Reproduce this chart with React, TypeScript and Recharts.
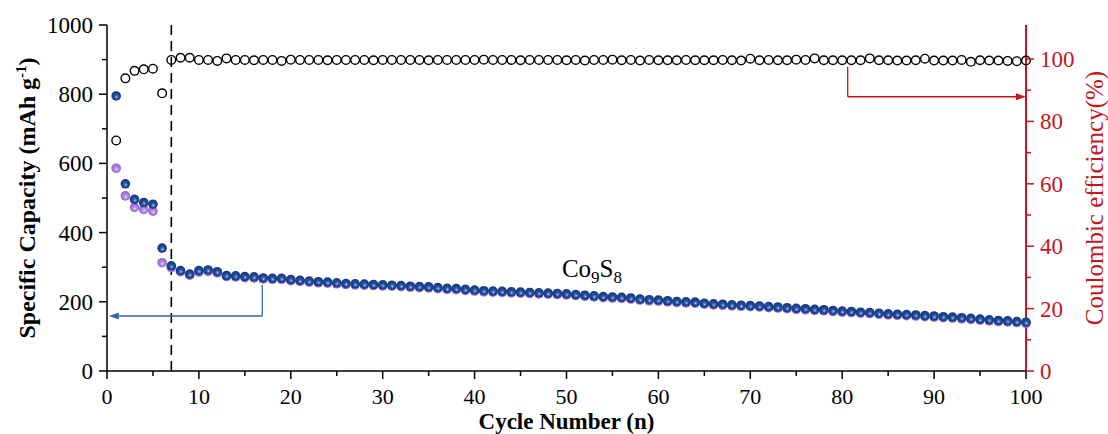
import { ComposedChart, Line, XAxis, YAxis, ReferenceLine, ReferenceDot, Label } from 'recharts';

const cycles = [
  1, 2, 3, 4, 5, 6, 7, 8, 9, 10, 11, 12, 13, 14, 15, 16, 17, 18, 19, 20,
  21, 22, 23, 24, 25, 26, 27, 28, 29, 30, 31, 32, 33, 34, 35, 36, 37, 38, 39, 40,
  41, 42, 43, 44, 45, 46, 47, 48, 49, 50, 51, 52, 53, 54, 55, 56, 57, 58, 59, 60,
  61, 62, 63, 64, 65, 66, 67, 68, 69, 70, 71, 72, 73, 74, 75, 76, 77, 78, 79, 80,
  81, 82, 83, 84, 85, 86, 87, 88, 89, 90, 91, 92, 93, 94, 95, 96, 97, 98, 99, 100,
];

// discharge capacity (dark blue balls), mAh/g
const dischargeCapacity = [
  795, 541, 496, 487, 482, 355, 304, 290, 280, 290, 292, 287, 276, 275, 273, 272, 269, 268, 268, 264,
  262, 260, 258, 257, 255, 253, 252, 251, 250, 249, 248, 247, 245, 244, 243, 241, 239, 238, 236, 234,
  232, 231, 230, 229, 228, 227, 226, 225, 224, 223, 221, 219, 217, 215, 214, 213, 211, 208, 206, 205,
  203, 201, 200, 199, 196, 194, 193, 191, 190, 189, 188, 186, 185, 183, 181, 180, 178, 177, 175, 173,
  172, 170, 169, 167, 165, 164, 163, 162, 160, 159, 157, 156, 154, 152, 150, 148, 146, 145, 143, 141,
];

// charge capacity (purple balls), mostly hidden behind the blue ones after cycle 6
const chargeCapacity = [
  586, 506, 473, 467, 462, 313, 299, 287, 277, 286, 288, 284, 273, 272, 270, 269, 266, 265, 265, 261,
  259, 257, 255, 254, 252, 250, 249, 248, 247, 246, 245, 244, 242, 241, 240, 238, 236, 235, 233, 231,
  229, 228, 227, 226, 225, 224, 223, 222, 221, 220, 218, 216, 214, 212, 211, 210, 208, 205, 203, 202,
  200, 198, 197, 196, 193, 191, 190, 188, 187, 186, 185, 183, 182, 180, 178, 177, 175, 174, 172, 170,
  169, 167, 166, 164, 162, 161, 160, 159, 157, 156, 154, 153, 151, 149, 147, 145, 143, 142, 140, 138,
];

// coulombic efficiency (open circles), %
const coulombicEfficiency = [
  73.9, 93.8, 96.2, 96.7, 96.9, 89.0, 99.7, 100.4, 100.4, 99.7, 99.7, 99.4, 100.2, 99.7, 99.7, 99.6, 99.7, 99.7, 99.4, 99.8,
  99.7, 99.7, 99.7, 99.6, 99.7, 99.7, 99.7, 99.7, 99.6, 99.7, 99.7, 99.7, 99.7, 99.7, 99.6, 99.7, 99.7, 99.7, 99.7, 99.7,
  99.8, 99.7, 99.7, 99.7, 99.6, 99.7, 99.7, 99.7, 99.7, 99.6, 99.7, 99.5, 99.7, 99.7, 99.8, 99.6, 99.7, 99.5, 99.7, 99.6,
  99.6, 99.6, 99.7, 99.6, 99.6, 99.6, 99.7, 99.6, 99.5, 100.1, 99.6, 99.7, 99.6, 99.6, 99.8, 99.7, 100.2, 99.6, 99.6, 99.6,
  99.6, 99.6, 100.2, 99.6, 99.6, 99.5, 99.5, 99.6, 100.1, 99.5, 99.5, 99.5, 99.7, 99.1, 99.6, 99.5, 99.5, 99.4, 99.3, 99.5,
];

const xTicks = [0, 5, 10, 15, 20, 25, 30, 35, 40, 45, 50, 55, 60, 65, 70, 75, 80, 85, 90, 95, 100];
const capacityTicks = [0, 100, 200, 300, 400, 500, 600, 700, 800, 900, 1000];
const efficiencyTicks = [0, 10, 20, 30, 40, 50, 60, 70, 80, 90, 100];

const data = cycles.map((cycle, i) => ({
  cycle,
  discharge: dischargeCapacity[i],
  charge: chargeCapacity[i],
  ce: coulombicEfficiency[i],
}));

const SERIF = '"Liberation Serif", "Times New Roman", serif';
const RED = '#c4161c';
const ARROW_BLUE = '#3465ad';
const TICK_SIZE = 8;
const TICK_MARGIN = 4;

function BottomTick({ x, y, payload }: any) {
  const axisY = y - TICK_SIZE - TICK_MARGIN;
  const major = payload.value % 10 === 0;
  return (
    <g>
      <line x1={x} x2={x} y1={axisY} y2={axisY + (major ? 8 : 5)} stroke="#000" strokeWidth={1.5} />
      {major && (
        <text x={x} y={axisY + 33} textAnchor="middle" fontFamily={SERIF} fontSize={22} fill="#000">
          {payload.value}
        </text>
      )}
    </g>
  );
}

function LeftTick({ x, y, payload }: any) {
  const axisX = x + TICK_SIZE + TICK_MARGIN;
  const major = payload.value % 200 === 0;
  return (
    <g>
      <line x1={axisX - (major ? 8 : 5)} x2={axisX} y1={y} y2={y} stroke="#000" strokeWidth={1.5} />
      {major && (
        <text x={axisX - 14} y={y + 8} textAnchor="end" fontFamily={SERIF} fontSize={23} fill="#000">
          {payload.value}
        </text>
      )}
    </g>
  );
}

function RightTick({ x, y, payload }: any) {
  const axisX = x - TICK_SIZE - TICK_MARGIN;
  const major = payload.value % 20 === 0;
  return (
    <g>
      <line x1={axisX} x2={axisX + (major ? 8 : 5)} y1={y} y2={y} stroke={RED} strokeWidth={1.5} />
      {major && (
        <text x={axisX + 14} y={y + 8} textAnchor="start" fontFamily={SERIF} fontSize={23} fill={RED}>
          {payload.value}
        </text>
      )}
    </g>
  );
}

const blueBall = (props: any) => (
  <circle key={`d-${props.index}`} cx={props.cx} cy={props.cy} r={4.8} fill="url(#blueBall)" />
);
const purpleBall = (props: any) => (
  <circle key={`c-${props.index}`} cx={props.cx} cy={props.cy} r={4.8} fill="url(#purpleBall)" />
);
const openCircle = (props: any) => (
  <circle key={`e-${props.index}`} cx={props.cx} cy={props.cy} r={4.3} fill="none" stroke="#000" strokeWidth={1.4} />
);

// segment with an arrow head at its end point
function ArrowSegment(props: any) {
  const { x1, y1, x2, y2, stroke } = props;
  const len = Math.hypot(x2 - x1, y2 - y1) || 1;
  const ux = (x2 - x1) / len;
  const uy = (y2 - y1) / len;
  const bx = x2 - ux * 10;
  const by = y2 - uy * 10;
  const head = `${x2},${y2} ${bx - uy * 3.5},${by + ux * 3.5} ${bx + uy * 3.5},${by - ux * 3.5}`;
  return (
    <g>
      <line x1={x1} y1={y1} x2={bx} y2={by} stroke={stroke} strokeWidth={1.3} />
      <polygon points={head} fill={stroke} />
    </g>
  );
}

function PlainSegment(props: any) {
  const { x1, y1, x2, y2, stroke } = props;
  return <line x1={x1} y1={y1} x2={x2} y2={y2} stroke={stroke} strokeWidth={1.3} />;
}

function CompoundLabel(props: any) {
  const { cx, cy } = props;
  return (
    <text x={cx} y={cy} fontFamily={SERIF} fontSize={25} fill="#000">
      Co
      <tspan fontSize={17} dy={6}>9</tspan>
      <tspan fontSize={25} dy={-6}>S</tspan>
      <tspan fontSize={17} dy={6}>8</tspan>
    </text>
  );
}

export default function App() {
  return (
    <div style={{ position: 'absolute', left: 0, top: 0 }}>
      <svg width={0} height={0} style={{ position: 'absolute' }}>
        <defs>
          <radialGradient id="blueBall" cx="50%" cy="50%" r="52%" fx="55%" fy="64%">
            <stop offset="0%" stopColor="#e9f0ff" />
            <stop offset="14%" stopColor="#6d8ed0" />
            <stop offset="45%" stopColor="#1f4c9c" />
            <stop offset="100%" stopColor="#143777" />
          </radialGradient>
          <radialGradient id="purpleBall" cx="50%" cy="50%" r="52%" fx="55%" fy="64%">
            <stop offset="0%" stopColor="#fbf6ff" />
            <stop offset="20%" stopColor="#c9a6ee" />
            <stop offset="55%" stopColor="#ad7ce0" />
            <stop offset="100%" stopColor="#9160cc" />
          </radialGradient>
        </defs>
      </svg>
      <ComposedChart width={1108} height={434} data={data} margin={{ top: 25, right: 0, bottom: 0, left: 0 }}>
        <XAxis
          xAxisId="top"
          orientation="top"
          dataKey="cycle"
          type="number"
          domain={[0, 100]}
          height={0}
          tick={false}
          tickLine={false}
          axisLine={{ stroke: '#000', strokeWidth: 1.5 }}
        />
        <XAxis
          xAxisId="x"
          dataKey="cycle"
          type="number"
          domain={[0, 100]}
          ticks={xTicks}
          interval={0}
          height={63}
          tickSize={TICK_SIZE}
          tickMargin={TICK_MARGIN}
          tickLine={false}
          tick={<BottomTick />}
          axisLine={{ stroke: '#000', strokeWidth: 1.5 }}
        >
          <Label
            content={({ viewBox }: any) => (
              <text
                x={viewBox.x + viewBox.width / 2}
                y={viewBox.y + 58}
                textAnchor="middle"
                fontFamily={SERIF}
                fontWeight="bold"
                fontSize={23}
                fill="#000"
              >
                Cycle Number (n)
              </text>
            )}
          />
        </XAxis>
        <YAxis
          yAxisId="left"
          type="number"
          domain={[0, 1000]}
          ticks={capacityTicks}
          interval={0}
          width={107}
          tickSize={TICK_SIZE}
          tickMargin={TICK_MARGIN}
          tickLine={false}
          tick={<LeftTick />}
          axisLine={{ stroke: '#000', strokeWidth: 1.5 }}
        >
          <Label
            content={({ viewBox }: any) => {
              const tx = viewBox.x + 35;
              const ty = viewBox.y + viewBox.height / 2;
              return (
                <text
                  x={tx}
                  y={ty}
                  transform={`rotate(-90, ${tx}, ${ty})`}
                  textAnchor="middle"
                  fontFamily={SERIF}
                  fontWeight="bold"
                  fontSize={24}
                  fill="#000"
                >
                  Specific Capacity (mAh g
                  <tspan fontSize={15} dy={-9}>-1</tspan>
                  <tspan dy={9}>)</tspan>
                </text>
              );
            }}
          />
        </YAxis>
        <YAxis
          yAxisId="right"
          orientation="right"
          type="number"
          domain={[0, 110.9]}
          ticks={efficiencyTicks}
          interval={0}
          width={82}
          tickSize={TICK_SIZE}
          tickMargin={TICK_MARGIN}
          tickLine={false}
          tick={<RightTick />}
          axisLine={{ stroke: RED, strokeWidth: 2 }}
        >
          <Label
            content={({ viewBox }: any) => {
              const tx = viewBox.x + 77;
              const ty = viewBox.y + viewBox.height / 2;
              return (
                <text
                  x={tx}
                  y={ty}
                  transform={`rotate(-90, ${tx}, ${ty})`}
                  textAnchor="middle"
                  fontFamily={SERIF}
                  fontSize={25}
                  fill={RED}
                >
                  Coulombic efficiency(%)
                </text>
              );
            }}
          />
        </YAxis>

        <ReferenceLine xAxisId="x" yAxisId="left" x={7} stroke="#000" strokeWidth={1.6} strokeDasharray="10 6" />

        <ReferenceLine
          xAxisId="x"
          yAxisId="left"
          segment={[{ x: 16.9, y: 249 }, { x: 16.9, y: 159 }]}
          stroke={ARROW_BLUE}
          shape={PlainSegment}
        />
        <ReferenceLine
          xAxisId="x"
          yAxisId="left"
          segment={[{ x: 16.9, y: 159 }, { x: 0.2, y: 159 }]}
          stroke={ARROW_BLUE}
          shape={ArrowSegment}
        />
        <ReferenceLine
          xAxisId="x"
          yAxisId="right"
          segment={[{ x: 80.6, y: 97.5 }, { x: 80.6, y: 87.9 }]}
          stroke={RED}
          shape={PlainSegment}
        />
        <ReferenceLine
          xAxisId="x"
          yAxisId="right"
          segment={[{ x: 80.6, y: 87.9 }, { x: 100, y: 87.9 }]}
          stroke={RED}
          shape={ArrowSegment}
        />

        <Line
          xAxisId="x"
          yAxisId="left"
          dataKey="charge"
          stroke="none"
          dot={purpleBall}
          activeDot={false}
          isAnimationActive={false}
        />
        <Line
          xAxisId="x"
          yAxisId="left"
          dataKey="discharge"
          stroke="none"
          dot={blueBall}
          activeDot={false}
          isAnimationActive={false}
        />
        <Line
          xAxisId="x"
          yAxisId="right"
          dataKey="ce"
          stroke="none"
          dot={openCircle}
          activeDot={false}
          isAnimationActive={false}
        />

        <ReferenceDot xAxisId="x" yAxisId="left" x={49.5} y={272} shape={CompoundLabel} />
      </ComposedChart>
    </div>
  );
}
